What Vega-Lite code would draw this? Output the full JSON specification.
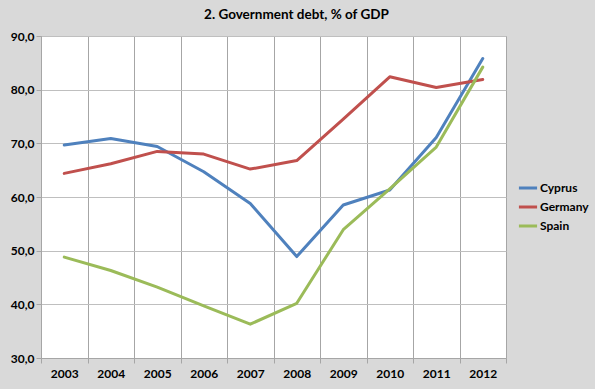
{
  "$schema": "https://vega.github.io/schema/vega-lite/v6.json",
  "autosize": "none",
  "width": 465,
  "height": 322,
  "padding": {"left": 41, "top": 36, "right": 89, "bottom": 31},
  "background": "#D9D9D9",
  "title": {
    "text": "2. Government debt, % of GDP",
    "font": "Lato",
    "fontSize": 13.5,
    "fontWeight": "bold",
    "color": "#000000",
    "anchor": "middle",
    "frame": "group",
    "dx": 23,
    "offset": 9
  },
  "data": {
    "values": [
      {"year": "2003", "country": "Cyprus", "value": 69.7},
      {"year": "2004", "country": "Cyprus", "value": 70.9},
      {"year": "2005", "country": "Cyprus", "value": 69.4},
      {"year": "2006", "country": "Cyprus", "value": 64.7},
      {"year": "2007", "country": "Cyprus", "value": 58.8},
      {"year": "2008", "country": "Cyprus", "value": 48.9},
      {"year": "2009", "country": "Cyprus", "value": 58.5},
      {"year": "2010", "country": "Cyprus", "value": 61.3},
      {"year": "2011", "country": "Cyprus", "value": 71.1},
      {"year": "2012", "country": "Cyprus", "value": 85.8},
      {"year": "2003", "country": "Germany", "value": 64.4},
      {"year": "2004", "country": "Germany", "value": 66.2},
      {"year": "2005", "country": "Germany", "value": 68.5},
      {"year": "2006", "country": "Germany", "value": 68.0},
      {"year": "2007", "country": "Germany", "value": 65.2},
      {"year": "2008", "country": "Germany", "value": 66.8},
      {"year": "2009", "country": "Germany", "value": 74.5},
      {"year": "2010", "country": "Germany", "value": 82.4},
      {"year": "2011", "country": "Germany", "value": 80.4},
      {"year": "2012", "country": "Germany", "value": 81.9},
      {"year": "2003", "country": "Spain", "value": 48.8},
      {"year": "2004", "country": "Spain", "value": 46.3},
      {"year": "2005", "country": "Spain", "value": 43.2},
      {"year": "2006", "country": "Spain", "value": 39.7},
      {"year": "2007", "country": "Spain", "value": 36.3},
      {"year": "2008", "country": "Spain", "value": 40.2},
      {"year": "2009", "country": "Spain", "value": 53.9},
      {"year": "2010", "country": "Spain", "value": 61.5},
      {"year": "2011", "country": "Spain", "value": 69.3},
      {"year": "2012", "country": "Spain", "value": 84.2}
    ]
  },
  "mark": {"type": "line", "strokeWidth": 3, "strokeJoin": "round", "strokeCap": "round"},
  "encoding": {
    "x": {
      "field": "year",
      "type": "ordinal",
      "scale": {"paddingInner": 0, "paddingOuter": 0},
      "axis": {
        "title": null,
        "labelAngle": 0,
        "grid": true,
        "tickBand": "extent",
        "gridColor": "#A6A6A6",
        "gridWidth": 1,
        "tickColor": "#A6A6A6",
        "tickSize": 5,
        "domainColor": "#A6A6A6",
        "labelFont": "Lato",
        "labelFontSize": 12,
        "labelFontWeight": "bold",
        "labelColor": "#000000",
        "labelPadding": 5
      }
    },
    "y": {
      "field": "value",
      "type": "quantitative",
      "scale": {"domain": [30, 90], "nice": false, "zero": false},
      "axis": {
        "title": null,
        "values": [30, 40, 50, 60, 70, 80, 90],
        "labelExpr": "replace(format(datum.value, '.1f'), '.', ',')",
        "grid": true,
        "gridColor": "#BFBFBF",
        "gridWidth": 1,
        "tickColor": "#A6A6A6",
        "tickSize": 5,
        "domainColor": "#A6A6A6",
        "labelFont": "Lato",
        "labelFontSize": 12,
        "labelFontWeight": "bold",
        "labelColor": "#000000",
        "labelPadding": 2
      }
    },
    "color": {
      "field": "country",
      "type": "nominal",
      "scale": {"domain": ["Cyprus", "Germany", "Spain"], "range": ["#4F81BD", "#C0504D", "#9BBB59"]},
      "legend": {
        "title": null,
        "orient": "none",
        "legendX": 476,
        "legendY": 141,
        "symbolType": "stroke",
        "symbolStrokeWidth": 3,
        "symbolSize": 330,
        "labelFont": "Lato",
        "labelFontSize": 12,
        "labelFontWeight": "bold",
        "labelColor": "#000000",
        "labelOffset": 1,
        "rowPadding": 2
      }
    }
  },
  "config": {
    "view": {"fill": "#FFFFFF", "stroke": "#A6A6A6"}
  }
}
